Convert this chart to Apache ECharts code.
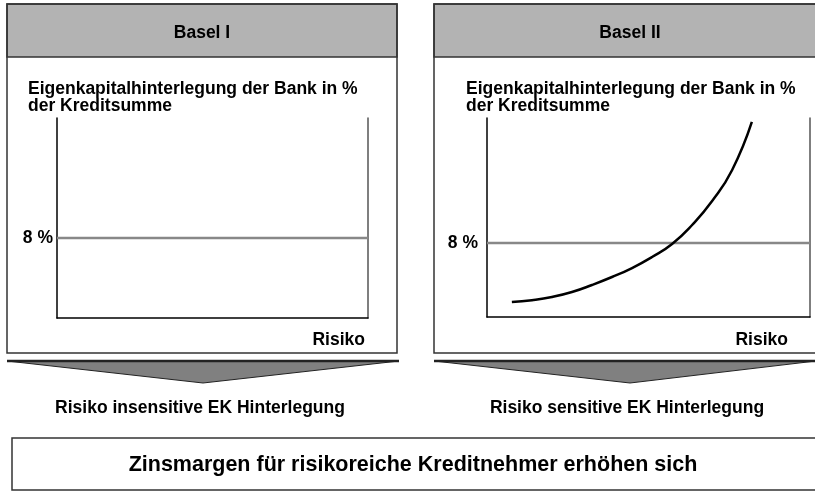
<!DOCTYPE html>
<html>
<head>
<meta charset="utf-8">
<script src="https://cdn.jsdelivr.net/npm/echarts@6/dist/echarts.min.js"></script>
<style>
  html, body { margin: 0; padding: 0; background: #fff; }
  #chart { width: 815px; height: 491px; }
</style>
</head>
<body>
<div id="chart"></div>
<script>
// panel titles and labels
const panelTitles = ['Basel I', 'Basel II'];
const axisTitle = ['Eigenkapitalhinterlegung der Bank in %', 'der Kreditsumme'];
const xName = 'Risiko';
const outcomes = ['Risiko insensitive EK Hinterlegung', 'Risiko sensitive EK Hinterlegung'];
const conclusion = 'Zinsmargen für risikoreiche Kreditnehmer erhöhen sich';

// data
const capitalTicks = [8];
const flatX = [0, 100];
const flatY = [8, 8];
const curveX = [7.7, 13.9, 20.1, 26.3, 32.5, 38.7, 44.9, 51.1, 57.3, 63.5, 69.7, 75.9, 82.0];
const curveY = [1.62, 1.82, 2.16, 2.70, 3.46, 4.32, 5.29, 6.48, 7.89, 9.94, 12.53, 15.88, 21.07];

const FONT = '"Liberation Sans", Arial, Helvetica, sans-serif';
const bold = (size) => 'bold ' + size + 'px ' + FONT;

const chartDom = document.getElementById('chart');
const myChart = echarts.init(chartDom, null, { renderer: 'canvas' });

const pairs = (xs, ys) => xs.map((x, i) => [x, ys[i]]);

function txt(text, x, y, align, size) {
  return {
    type: 'text',
    x: x, y: y,
    style: {
      text: text,
      font: bold(size || 17.5),
      fill: '#000',
      align: align || 'left',
      verticalAlign: 'middle'
    }
  };
}

function arrow(x1, x2, xm) {
  return [
    {
      type: 'polygon',
      shape: { points: [[x1, 361], [x2, 361], [xm, 383]] },
      style: { fill: '#808080', stroke: '#222', lineWidth: 1 }
    },
    {
      type: 'line',
      shape: { x1: x1, y1: 361, x2: x2, y2: 361 },
      style: { stroke: '#222', lineWidth: 2.5 }
    }
  ];
}

const boxStroke = { fill: 'none', stroke: '#333', lineWidth: 1.5 };

const graphics = [
  // left panel
  { type: 'rect', shape: { x: 7, y: 4, width: 390, height: 53 }, style: { fill: '#b3b3b3', stroke: '#333', lineWidth: 1.5 } },
  { type: 'rect', shape: { x: 7, y: 4, width: 390, height: 349 }, style: boxStroke },
  txt(panelTitles[0], 202, 33, 'center'),
  txt(axisTitle[0], 28, 89),
  txt(axisTitle[1], 28, 106),
  txt(xName, 365, 340, 'right'),
  // right panel
  { type: 'rect', shape: { x: 434, y: 4, width: 400, height: 53 }, style: { fill: '#b3b3b3', stroke: '#333', lineWidth: 1.5 } },
  { type: 'rect', shape: { x: 434, y: 4, width: 400, height: 349 }, style: boxStroke },
  txt(panelTitles[1], 630, 33, 'center'),
  txt(axisTitle[0], 466, 89),
  txt(axisTitle[1], 466, 106),
  txt(xName, 788, 340, 'right'),
  // arrows
  ...arrow(7, 399, 203),
  ...arrow(434, 816, 630),
  txt(outcomes[0], 200, 408, 'center'),
  txt(outcomes[1], 627, 408, 'center'),
  // bottom box
  { type: 'rect', shape: { x: 12, y: 438, width: 820, height: 52 }, style: boxStroke },
  txt(conclusion, 413, 465, 'center', 21.5)
];

function yAx(gridIndex, max, margin) {
  return {
    type: 'value', gridIndex: gridIndex, min: 0, max: max,
    axisLine: { show: true, lineStyle: { color: '#000', width: 1.5 } },
    axisTick: { show: false },
    splitLine: { show: false },
    axisLabel: {
      customValues: capitalTicks,
      formatter: '{value} %',
      margin: margin,
      color: '#000',
      fontFamily: FONT,
      fontWeight: 'bold',
      fontSize: 17.5
    }
  };
}

function rightEdge(gridIndex) {
  return {
    type: 'value', gridIndex: gridIndex, position: 'right', min: 0, max: 1,
    axisLine: { show: true, lineStyle: { color: '#555', width: 1.5 } },
    axisTick: { show: false }, axisLabel: { show: false }, splitLine: { show: false }
  };
}

function xAx(gridIndex) {
  return {
    type: 'value', gridIndex: gridIndex, min: 0, max: 100,
    axisLine: { show: true, onZero: false, lineStyle: { color: '#000', width: 1.5 } },
    axisTick: { show: false }, axisLabel: { show: false }, splitLine: { show: false }
  };
}

const option = {
  animation: false,
  backgroundColor: '#fff',
  grid: [
    { left: 57, top: 118, width: 311, height: 200 },
    { left: 487, top: 118, width: 323, height: 199 }
  ],
  xAxis: [xAx(0), xAx(1)],
  yAxis: [yAx(0, 20, 4), yAx(1, 21.5, 9), rightEdge(0), rightEdge(1)],
  series: [
    {
      type: 'line', xAxisIndex: 0, yAxisIndex: 0,
      data: pairs(flatX, flatY), symbol: 'none',
      lineStyle: { color: '#888', width: 2.5 }
    },
    {
      type: 'line', xAxisIndex: 1, yAxisIndex: 1,
      data: pairs(flatX, flatY), symbol: 'none',
      lineStyle: { color: '#888', width: 2.5 }
    },
    {
      type: 'line', xAxisIndex: 1, yAxisIndex: 1,
      data: pairs(curveX, curveY), symbol: 'none',
      smooth: true, z: 3,
      lineStyle: { color: '#000', width: 2.5 }
    }
  ],
  graphic: graphics
};

myChart.setOption(option);
</script>
</body>
</html>
